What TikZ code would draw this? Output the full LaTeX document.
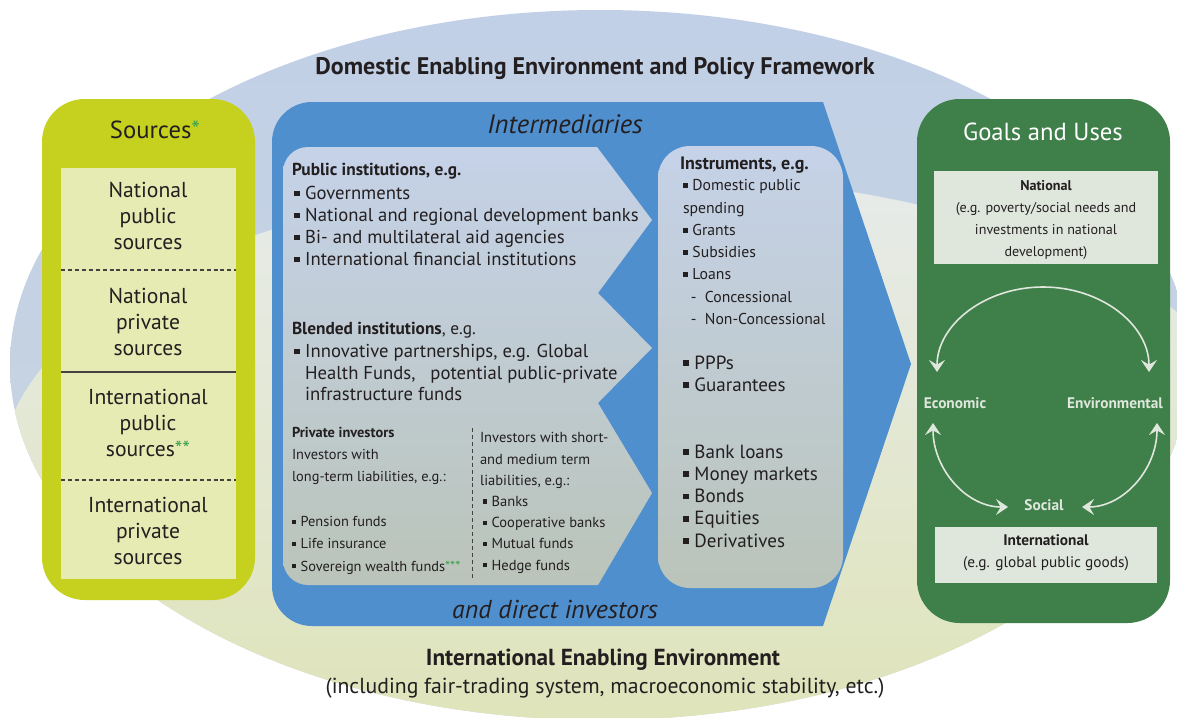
\documentclass[tikz,border=0pt]{standalone}
\usepackage{fontspec}
\setmainfont{PT Sans}
\usetikzlibrary{arrows.meta}

\definecolor{ink}{HTML}{231F20}
\definecolor{lime}{HTML}{C6D11F}
\definecolor{limepanel}{HTML}{E6EBB4}
\definecolor{midblue}{HTML}{4F8FCD}
\definecolor{goalgreen}{HTML}{3F7F4A}
\definecolor{goalbox}{HTML}{DFE7DD}
\definecolor{stargreen}{HTML}{3FA34D}
\definecolor{skytop}{HTML}{C1D0E6}
\definecolor{skybot}{HTML}{CAD5DE}
\definecolor{meadtop}{HTML}{E7EBEA}
\definecolor{meadmid}{HTML}{E2E7CB}
\definecolor{meadbot}{HTML}{DEE3B5}
\definecolor{paneltop}{HTML}{C5D2E8}
\definecolor{panelmid}{HTML}{E2E6C2}
\definecolor{panelbot}{HTML}{BAC4BA}

% small square bullet
\newcommand\sq{\makebox[0.6em][l]{\rule[0.18em]{0.3em}{0.3em}}}
\newcommand\fs[2]{\fontsize{#1}{#2}\selectfont}
\newcommand\stars[1]{\textcolor{stargreen}{#1}}

\begin{document}
\begin{tikzpicture}[x=0.75pt,y=-0.75pt,
  every node/.style={inner sep=0pt,outer sep=0pt,text=ink},
  % multi-line blocks are placed by the baseline of their last line
  txt/.style={anchor=base west,align=left},
  ctr/.style={anchor=center,align=center},
  garrow/.style={draw=goalbox,line width=1.2pt,
    arrows={Stealth[length=9pt,width=12pt,inset=3.5pt]-Stealth[length=9pt,width=12pt,inset=3.5pt]}},
  divider/.style={draw=ink!85,line width=0.8pt},
  dashdiv/.style={divider,dash pattern=on 3pt off 2.2pt},
]
\useasboundingbox (0,0) rectangle (1177,717);
\clip (0,0) rectangle (1177,717);

% ---- enabling environments (background ellipses)
\shade[top color=skytop,bottom color=skybot] (600,365) ellipse [x radius=590,y radius=355];
\begin{scope}
  \clip (600,365) ellipse [x radius=590,y radius=355];
  \shade[top color=meadtop,middle color=meadmid,bottom color=meadbot]
    (640,475) ellipse [x radius=640,y radius=300];
\end{scope}

\node[font=\bfseries\fs{18}{21}] (domestic) at (595,69)
  {Domestic Enabling Environment and Policy Framework};
\node[font=\bfseries\fs{17.4}{20}] (intenv) at (603,660) {International Enabling Environment};
\node[font=\fs{16.3}{19}] (incl) at (605,688)
  {(including fair-trading system, macroeconomic stability, etc.)};

% ---- sources column
\fill[lime,rounded corners=32pt] (42,99) rectangle (255,600);
\fill[limepanel] (61,168) rectangle (236,579);
\draw[dashdiv] (61,270) -- (236,270);
\draw[divider] (61,372) -- (236,372);
\draw[dashdiv] (61,480) -- (236,480);
\node[font=\fs{18.5}{21}] (srctitle) at (155,130) {Sources\stars{*}};
\begin{scope}[every node/.append style={ctr,font=\fs{16.2}{19.2}}]
  \node (natpub) at (148,216) {National\\public\\sources};
  \node (natpriv) at (148,322) {National\\private\\sources};
  \node (intpub) at (148,423) {International\\public\\sources\stars{**}};
  \node (intpriv) at (148,531) {International\\private\\sources};
\end{scope}

% ---- intermediaries arrow
\fill[midblue] (823,102) -- (911,364) -- (823,626) -- (312,626)
  arc[start angle=90,end angle=180,radius=40] -- (272,142)
  arc[start angle=180,end angle=270,radius=40] -- cycle;
\shade[top color=paneltop,middle color=panelmid,bottom color=panelbot]
  (597,147) -- (652,220) -- (598,293) -- (652,348) -- (598,403) -- (652,493)
  -- (598,585) -- (308,585) arc[start angle=90,end angle=180,radius=25]
  -- (283,172) arc[start angle=180,end angle=270,radius=25] -- cycle;
\shade[top color=paneltop,middle color=panelmid,bottom color=panelbot,rounded corners=24pt]
  (658,146) rectangle (843,588);
\draw[dashdiv,line width=0.7pt] (472,428) -- (472,578);

\node[font=\itshape\fs{20}{23}] (interm) at (565,124) {Intermediaries};
\node[font=\itshape\fs{19.4}{22}] (direct) at (555,609) {and direct investors};

\node[txt,font=\bfseries\fs{13}{15}] (pubh) at (292,175) {Public institutions, e.g.};
\node[txt,font=\fs{14}{16.5}] (publist) at (294,265.6)
  {\sq Governments\\\sq National and regional development banks\\
   \sq Bi- and multilateral aid agencies\\\sq International financial institutions};
\node[txt,font=\fs{13}{15}] (blendh) at (292,334) {\textbf{Blended institutions}, e.g.};
\node[txt,font=\fs{14}{16.1}] (blendlist) at (294,400.6)
  {\sq Innovative partnerships, e.g. Global\\\hspace*{0.6em}Health Funds,\ \ \ potential public-private\\
   \hspace*{0.6em}infrastructure funds};
\node[txt,font=\fs{10.8}{16.7}] (privl) at (292,571)
  {\textbf{Private investors}\\Investors with\\long-term liabilities, e.g.:\\[16.7pt]
   \sq Pension funds\\\sq Life insurance\\\sq Sovereign wealth funds\stars{***}};
\node[txt,font=\fs{10.9}{15.9}] (privr) at (480,570)
  {Investors with short-\\and medium term\\liabilities, e.g.:\\
   \hspace*{0.2em}\sq Banks\\\hspace*{0.2em}\sq Cooperative banks\\
   \hspace*{0.2em}\sq Mutual funds\\\hspace*{0.2em}\sq Hedge funds};

\node[txt,font=\bfseries\fs{13.5}{15}] (insth) at (680,169) {Instruments, e.g.};
\node[txt,font=\fs{11.8}{16.7}] (instA) at (683,324.4)
  {\sq Domestic public\\spending\\\sq Grants\\\sq Subsidies\\\sq Loans\\
   \hspace*{0.5em}-\ \ Concessional\\\hspace*{0.5em}-\ \ Non-Concessional};
\node[txt,font=\fs{14.3}{16.5}] (instB) at (683,391.2) {\sq PPPs\\\sq Guarantees};
\node[txt,font=\fs{14.3}{16.7}] (instC) at (683,547.2)
  {\sq Bank loans\\\sq Money markets\\\sq Bonds\\\sq Equities\\\sq Derivatives};

% ---- goals and uses
\fill[goalgreen,rounded corners=32pt] (917,99) rectangle (1170,623);
\fill[goalbox] (934,171) rectangle (1158,264);
\fill[goalbox] (935,527) rectangle (1157,583);
\node[font=\fs{18.5}{21},text=white] (goals) at (1043,132) {Goals and Uses};
\node[ctr,font=\fs{10.6}{16.7}] (national) at (1046,220)
  {\textbf{National}\\(e.g. poverty/social needs and\\investments in national\\development)};
\node[ctr,font=\fs{11.5}{16.5}] (international) at (1046,553)
  {\textbf{International}\\(e.g. global public goods)};
\begin{scope}[every node/.append style={font=\bfseries\fs{11.5}{13},text=goalbox}]
  \node (eco) at (955,403) {Economic};
  \node (env) at (1115,403) {Environmental};
  \node (soc) at (1044,505) {Social};
\end{scope}
\coordinate (ecoT) at (937,372);
\coordinate (envT) at (1149,372);
\coordinate (ecoB) at (933,423);
\coordinate (envB) at (1157,423);
\draw[garrow] (ecoT) arc[start angle=180,end angle=360,x radius=106,y radius=85];
\draw[garrow] (ecoB) arc[start angle=180,end angle=90,x radius=75,y radius=84];
\draw[garrow] (envB) arc[start angle=0,end angle=90,x radius=75,y radius=84];
\end{tikzpicture}
\end{document}
